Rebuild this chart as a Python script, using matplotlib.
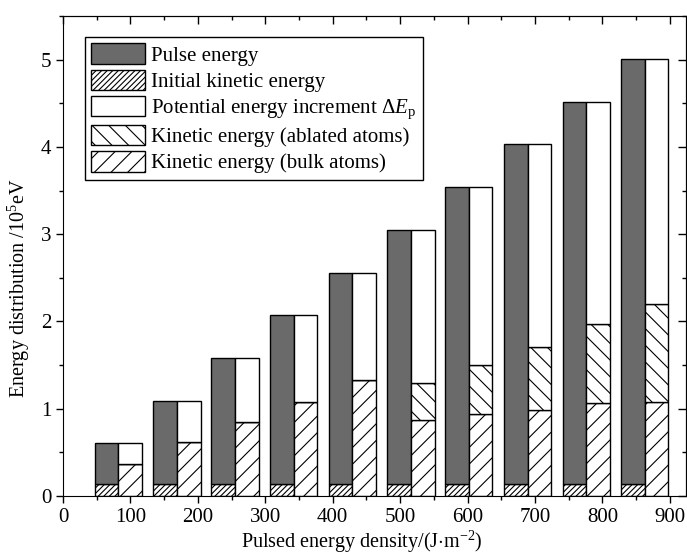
import numpy as np
import matplotlib
matplotlib.use("Agg")
import matplotlib.pyplot as plt
from matplotlib.ticker import MultipleLocator

plt.rcParams['font.family'] = ['Liberation Serif', 'DejaVu Serif']
plt.rcParams['mathtext.fontset'] = 'custom'
plt.rcParams['mathtext.rm'] = 'Liberation Serif'
plt.rcParams['mathtext.it'] = 'Liberation Serif:italic'
plt.rcParams['hatch.linewidth'] = 0.8

# pulsed energy density of each group (J/m^2), values in 1e5 eV
density = [82, 169, 255, 342, 429, 516, 602, 689, 776, 863]
pulse = [0.61, 1.09, 1.58, 2.07, 2.56, 3.05, 3.54, 4.03, 4.52, 5.01]
initial_kin = [0.14, 0.14, 0.14, 0.14, 0.14, 0.14, 0.14, 0.14, 0.14, 0.14]
bulk_kin = [0.37, 0.62, 0.85, 1.08, 1.33, 0.87, 0.94, 0.99, 1.06, 1.08]
ablated_kin = [0, 0, 0, 0, 0, 0.42, 0.56, 0.72, 0.91, 1.12]

pulse = np.array(pulse)
initial_kin = np.array(initial_kin)
bulk_kin = np.array(bulk_kin)
ablated_kin = np.array(ablated_kin)
potential = pulse - bulk_kin - ablated_kin

fig = plt.figure(figsize=(6.87, 5.54), dpi=100)
ax = fig.add_axes([63/687, 1-496/554, 623/687, 480/554])

w = 35
dark = '#6a6a6a'
ek = dict(edgecolor='black', linewidth=1.0)

ax.bar(density, initial_kin, width=-w, align='edge', color='white',
       hatch='//////', label='Initial kinetic energy', **ek)
ax.bar(density, pulse - initial_kin, width=-w, align='edge', bottom=initial_kin,
       color=dark, label='Pulse energy', **ek)

ax.bar(density, bulk_kin, width=w, align='edge', color='white', hatch='//',
       label='Kinetic energy (bulk atoms)', **ek)
ax.bar(density, ablated_kin, width=w, align='edge', bottom=bulk_kin, color='white',
       hatch='\\\\', label='Kinetic energy (ablated atoms)', **ek)
ax.bar(density, potential, width=w, align='edge', bottom=bulk_kin + ablated_kin,
       color='white', label=r'Potential energy increment $\Delta \mathit{E}_\mathrm{p}$', **ek)

ax.set_xlim(0, 924)
ax.set_ylim(0, 5.5)
ax.xaxis.set_major_locator(MultipleLocator(100))
ax.xaxis.set_minor_locator(MultipleLocator(50))
ax.yaxis.set_major_locator(MultipleLocator(1))
ax.yaxis.set_minor_locator(MultipleLocator(0.5))

ax.tick_params(which='both', direction='out', labelsize=15, width=1)
ax.tick_params(which='major', length=5)
ax.tick_params(which='minor', length=3)

# inward mirror ticks on top and right
tx = ax.secondary_xaxis('top')
tx.xaxis.set_major_locator(MultipleLocator(100))
tx.xaxis.set_minor_locator(MultipleLocator(50))
tx.tick_params(which='both', direction='in', labeltop=False, width=1)
tx.tick_params(which='major', length=6)
tx.tick_params(which='minor', length=3)
ty = ax.secondary_yaxis('right')
ty.yaxis.set_major_locator(MultipleLocator(1))
ty.yaxis.set_minor_locator(MultipleLocator(0.5))
ty.tick_params(which='both', direction='in', labelright=False, width=1)
ty.tick_params(which='major', length=6)
ty.tick_params(which='minor', length=3)

ax.set_xlabel(r'Pulsed energy density/(J$\cdot$m$^{-2}$)', fontsize=14.5)
ax.xaxis.set_label_coords(0.48, -0.068)
ax.set_ylabel(r'Energy distribution /10$^5$eV', fontsize=14.5)
ax.yaxis.set_label_coords(-0.05, 0.433)

h, l = ax.get_legend_handles_labels()
order = [1, 0, 4, 3, 2]
leg = ax.legend([h[i] for i in order], [l[i] for i in order], loc='upper left',
                bbox_to_anchor=(0.035, 0.956), borderaxespad=0, fontsize=15,
                fancybox=False, edgecolor='black', framealpha=1,
                handlelength=2.6, handleheight=1.15, handletextpad=0.3,
                labelspacing=0.18, borderpad=0.3)
leg.get_frame().set_linewidth(1.0)

fig.savefig('out.png', dpi=100)
